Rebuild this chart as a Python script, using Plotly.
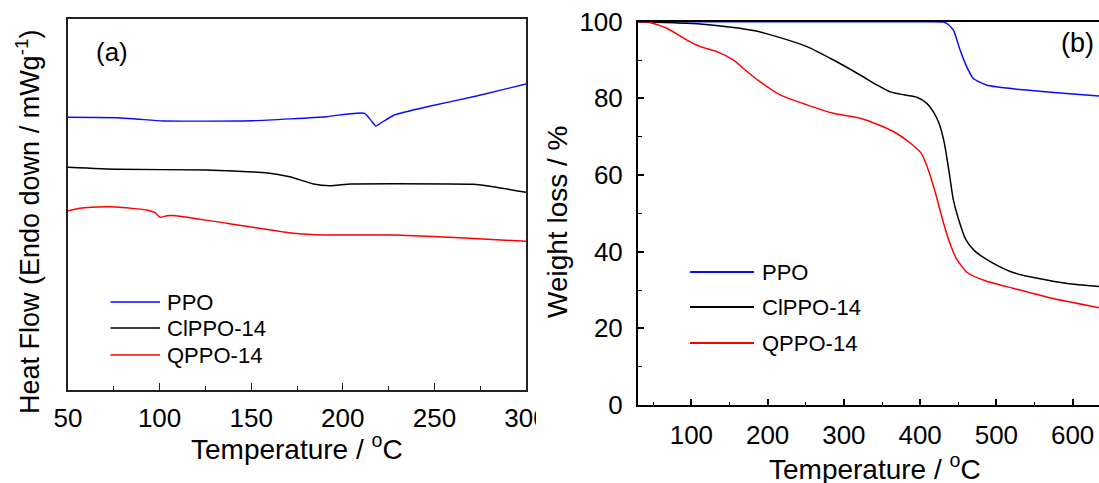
import plotly.graph_objects as go

W, H = 1099, 483
FONT = "Liberation Sans, Arial, sans-serif"

series_names = ["PPO", "ClPPO-14", "QPPO-14"]
series_colors = ["#0a0aff", "#000000", "#ff0000"]

# ---- Panel (a): DSC (heat flow, arbitrary units) ----
dsc_ppo_T = [50, 77, 89, 102, 151, 191, 204, 212, 216, 218, 221, 228, 246, 273, 300]
dsc_ppo_hf = [272.7, 272.3, 270.7, 269.0, 269.3, 273.3, 276.3, 276.7, 268.3, 264.0, 267.3, 275.0, 283.3, 294.0, 306.0]

dsc_cl_T = [50, 77, 126, 158, 171, 184, 193, 204, 228, 271, 282, 300]
dsc_cl_hf = [222.7, 220.7, 220.0, 217.3, 213.3, 206.0, 204.3, 206.0, 206.3, 205.7, 203.3, 197.7]

dsc_q_T = [50, 56.5, 65.6, 76.6, 93, 97.5, 100.3, 104, 109, 136.7, 173, 191, 228, 264, 300]
dsc_q_hf = [179.3, 181.7, 183.0, 183.0, 180.0, 177.3, 172.7, 174.3, 174.3, 166.7, 156.7, 155.0, 155.0, 152.3, 148.7]

# ---- Panel (b): TGA (weight %, temperature °C) ----
tga_ppo_T = [30, 100, 200, 300, 400, 430.5, 436, 443.7, 452.4, 461, 469.9, 487, 500, 526.7, 560, 592, 634.6]
tga_ppo_w = [100, 100, 100, 100, 100, 99.9, 99.4, 97.8, 92.6, 88.3, 85.2, 83.5, 83.0, 82.4, 81.8, 81.3, 80.6]

tga_cl_T = [30, 76.7, 111.7, 155.3, 181.5, 212, 251.5, 286.4, 321.3, 343.2, 360.7, 373.8, 395.7, 408.8, 417.4,
            424.8, 431.8, 438.8, 443.5, 450.5, 459.8, 471.5, 494.9, 522.9, 555.6, 593, 634.6]
tga_cl_w = [100, 99.7, 99.4, 98.5, 97.7, 96.1, 93.5, 90.0, 86.1, 83.5, 81.7, 81.1, 80.3, 78.7, 76.5,
            73.5, 68.3, 59.7, 53.6, 48.4, 43.2, 40.2, 37.1, 34.5, 33.0, 31.7, 30.9]

tga_q_T = [30, 41.8, 68, 94.2, 111.7, 133.5, 155.3, 172.9, 190.3, 216.5, 251.5, 286.4, 321.3, 345.3, 368.7,
           387.4, 401.4, 410.7, 420.1, 429.4, 438.8, 448.1, 462.1, 485.5, 522.9, 569.6, 634.6]
tga_q_w = [100, 100, 98.3, 95.2, 93.5, 92.2, 90.0, 87.0, 84.3, 80.9, 78.3, 76.1, 74.8, 73.1, 70.9,
           68.3, 65.7, 61.4, 55.3, 48.4, 42.3, 38.0, 34.5, 32.4, 30.4, 28.0, 25.4]


def px(x):
    return x / W


def py(y):
    return 1 - y / H


fig = go.Figure()

dsc = [(dsc_ppo_T, dsc_ppo_hf), (dsc_cl_T, dsc_cl_hf), (dsc_q_T, dsc_q_hf)]
for (t, v), name, col in zip(dsc, series_names, series_colors):
    fig.add_trace(go.Scatter(x=t, y=v, mode="lines", name=name, showlegend=False,
                             line=dict(color=col, width=1.4, shape="spline", smoothing=0.4),
                             xaxis="x", yaxis="y"))

tga = [(tga_ppo_T, tga_ppo_w), (tga_cl_T, tga_cl_w), (tga_q_T, tga_q_w)]
for (t, v), name, col in zip(tga, series_names, series_colors):
    fig.add_trace(go.Scatter(x=t, y=v, mode="lines", name=name, showlegend=False,
                             line=dict(color=col, width=1.5, shape="spline", smoothing=0.6),
                             xaxis="x2", yaxis="y2"))

tickfont = dict(family=FONT, size=26, color="#000")

fig.update_layout(
    width=W, height=H,
    margin=dict(l=0, r=0, t=0, b=0, pad=0),
    showlegend=False,
    paper_bgcolor="white", plot_bgcolor="white",
    font=dict(family=FONT, color="#000"),
    xaxis=dict(domain=[px(68), px(526)], range=[50, 300], tick0=50, dtick=50, automargin=False,
               ticks="inside", ticklen=7, tickwidth=1.3, tickcolor="#222",
               minor=dict(dtick=25, tick0=50, ticks="inside", ticklen=4, tickwidth=1.2, tickcolor="#222"),
               showline=True, linecolor="#222", linewidth=1.5, mirror=True,
               showgrid=False, zeroline=False, tickfont=tickfont, ticklabelstandoff=4),
    yaxis=dict(domain=[py(390), py(19)], range=[0, 371], showticklabels=False, ticks="", automargin=False,
               showline=True, linecolor="#222", linewidth=1.5, mirror=True,
               showgrid=False, zeroline=False),
    xaxis2=dict(domain=[px(638), 1], range=[30, 634.6], tick0=0, dtick=100, automargin=False,
                ticks="inside", ticklen=6, tickwidth=1.5, tickcolor="#000",
                minor=dict(dtick=50, tick0=0, ticks="inside", ticklen=3, tickwidth=1.3, tickcolor="#000"),
                showline=True, linecolor="#000", linewidth=2, mirror=True,
                showgrid=False, zeroline=False, tickfont=tickfont, ticklabelstandoff=6,
                anchor="y2"),
    yaxis2=dict(domain=[py(405), py(21.7)], range=[0, 100], tick0=0, dtick=20, automargin=False,
                ticks="inside", ticklen=6, tickwidth=1.5, tickcolor="#000",
                minor=dict(dtick=10, tick0=0, ticks="inside", ticklen=4, tickwidth=1.3, tickcolor="#000"),
                showline=True, linecolor="#000", linewidth=2, mirror=False,
                showgrid=False, zeroline=False, tickfont=tickfont, ticklabelstandoff=8,
                anchor="x2"),
)

shapes = []
annotations = []

# Legend for panel (a)
leg_a_y = [302, 328, 355]
for name, col, yy in zip(series_names, series_colors, leg_a_y):
    shapes.append(dict(type="line", xref="paper", yref="paper", x0=px(110.5), x1=px(160),
                       y0=py(yy), y1=py(yy), line=dict(color=col, width=1.6)))
    annotations.append(dict(text=name, xref="paper", yref="paper", x=px(165), y=py(yy),
                            xanchor="left", yanchor="middle", showarrow=False,
                            font=dict(family=FONT, size=22, color="#000")))

# Legend for panel (b)
leg_b_y = [272, 307, 343]
for name, col, yy in zip(series_names, series_colors, leg_b_y):
    shapes.append(dict(type="line", xref="paper", yref="paper", x0=px(690), x1=px(754),
                       y0=py(yy), y1=py(yy), line=dict(color=col, width=1.8)))
    annotations.append(dict(text=name, xref="paper", yref="paper", x=px(760), y=py(yy),
                            xanchor="left", yanchor="middle", showarrow=False,
                            font=dict(family=FONT, size=22, color="#000")))

# Mask that clips the last tick label of panel (a), as in the original
shapes.append(dict(type="rect", xref="paper", yref="paper", x0=px(536), x1=px(570),
                   y0=py(432), y1=py(393), fillcolor="white", line=dict(width=0), layer="above"))

# Axis titles and panel labels
annotations += [
    dict(text="Temperature / <sup>o</sup>C", xref="paper", yref="paper", x=px(297), y=py(447),
         xanchor="center", yanchor="middle", showarrow=False, font=dict(family=FONT, size=28)),
    dict(text="Heat Flow (Endo down / mWg<sup>-1</sup>)", xref="paper", yref="paper", x=px(28), y=py(222),
         xanchor="center", yanchor="middle", textangle=-90, showarrow=False, font=dict(family=FONT, size=27)),
    dict(text="Temperature / <sup>o</sup>C", xref="paper", yref="paper", x=px(875), y=py(467),
         xanchor="center", yanchor="middle", showarrow=False, font=dict(family=FONT, size=28)),
    dict(text="Weight loss / %", xref="paper", yref="paper", x=px(557), y=py(222),
         xanchor="center", yanchor="middle", textangle=-90, showarrow=False, font=dict(family=FONT, size=28)),
    dict(text="(a)", xref="paper", yref="paper", x=px(112), y=py(52),
         xanchor="center", yanchor="middle", showarrow=False, font=dict(family=FONT, size=26)),
    dict(text="(b)", xref="paper", yref="paper", x=px(1077), y=py(43),
         xanchor="center", yanchor="middle", showarrow=False, font=dict(family=FONT, size=27)),
]

fig.update_layout(shapes=shapes, annotations=annotations)

fig.write_html("out.html")
